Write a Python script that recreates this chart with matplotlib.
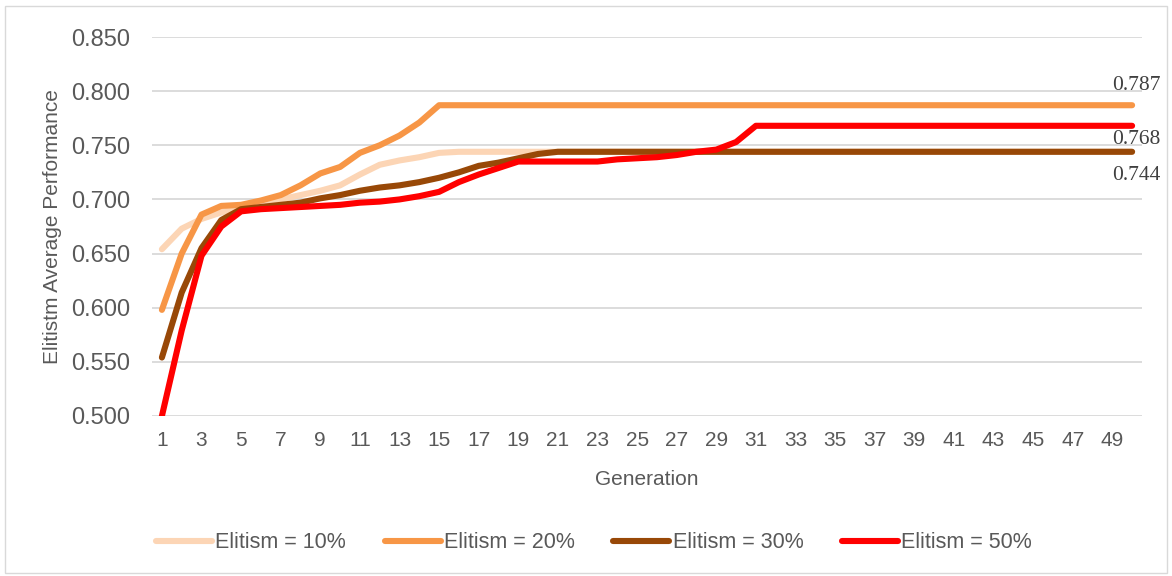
import matplotlib
matplotlib.use("Agg")
import matplotlib.pyplot as plt
from matplotlib.patches import Rectangle

generations = list(range(1, 51))

elitism_10 = [0.654, 0.673, 0.682, 0.688, 0.693, 0.697, 0.700, 0.704, 0.708, 0.713,
              0.723, 0.732, 0.736, 0.739, 0.743] + [0.744] * 35
elitism_20 = [0.598, 0.650, 0.686, 0.694, 0.695, 0.699, 0.704, 0.713, 0.724, 0.730,
              0.743, 0.750, 0.759, 0.771, 0.787] + [0.787] * 35
elitism_30 = [0.554, 0.614, 0.655, 0.681, 0.691, 0.693, 0.695, 0.697, 0.701, 0.704,
              0.708, 0.711, 0.713, 0.716, 0.720, 0.725, 0.731, 0.734, 0.738, 0.742] + [0.744] * 30
elitism_50 = [0.500, 0.579, 0.648, 0.675, 0.689, 0.691, 0.692, 0.693, 0.694, 0.695,
              0.697, 0.698, 0.700, 0.703, 0.707, 0.716, 0.723, 0.729, 0.735, 0.735,
              0.735, 0.735, 0.735, 0.737, 0.738, 0.739, 0.741, 0.744, 0.746, 0.753] + [0.768] * 20

series_labels = ["Elitism = 10%", "Elitism = 20%", "Elitism = 30%", "Elitism = 50%"]
series_colors = ["#FCD5B5", "#F79646", "#984807", "#FF0000"]
y_ticks = [0.500, 0.550, 0.600, 0.650, 0.700, 0.750, 0.800, 0.850]
x_ticks = list(range(1, 50, 2))

plt.rcParams["font.family"] = ["Liberation Sans", "DejaVu Sans"]

fig = plt.figure(figsize=(11.72, 5.76), dpi=100)
ax = fig.add_axes([152 / 1172, 1 - 416 / 576, 990 / 1172, 379 / 576])

for values, label, color in zip([elitism_10, elitism_20, elitism_30, elitism_50],
                                series_labels, series_colors):
    ax.plot(generations, values, color=color, lw=4.4, label=label,
            solid_capstyle="round", solid_joinstyle="round")

ax.set_xlim(0.5, 50.5)
ax.set_ylim(0.5, 0.85)
ax.set_yticks(y_ticks)
ax.set_yticklabels([f"{v:.3f}" for v in y_ticks])
ax.set_xticks(x_ticks)
ax.set_xticklabels([str(v) for v in x_ticks])
ax.tick_params(axis="y", length=0, pad=15.5, labelsize=17, labelcolor="#595959")
ax.tick_params(axis="x", length=0, pad=11, labelsize=15, labelcolor="#595959")
ax.grid(axis="y", color="#D9D9D9", lw=1.3)
ax.set_axisbelow(True)
for spine in ax.spines.values():
    spine.set_visible(False)

ax.set_xlabel("Generation", fontsize=15, color="#595959", labelpad=14)
ax.set_ylabel("Elitistm Average Performance", fontsize=15, color="#595959")
ax.yaxis.set_label_coords(-(152 - 62) / 990, 0.5)

# final-value annotations on the last generation
label_offsets = [(elitism_20, 14.5), (elitism_50, -10), (elitism_30, -17)]
for values, dy in label_offsets:
    ax.annotate(f"{values[-1]:.3f}", xy=(generations[-1], values[-1]),
                xytext=(3, dy), textcoords="offset points", ha="center", va="center",
                fontsize=15.5, color="#404040",
                family=["Liberation Serif", "DejaVu Serif"])

fig.legend(loc="center", bbox_to_anchor=(594 / 1172, 1 - 543 / 576), ncol=4,
           frameon=False, fontsize=15.5, labelcolor="#595959",
           handlelength=2.6, handletextpad=0.15, columnspacing=1.8)

fig.patches.append(Rectangle((5 / 1172, 3 / 576), 1162 / 1172, 567 / 576,
                             transform=fig.transFigure, fill=False,
                             edgecolor="#D9D9D9", lw=1))

fig.savefig("out.png", dpi=100)
